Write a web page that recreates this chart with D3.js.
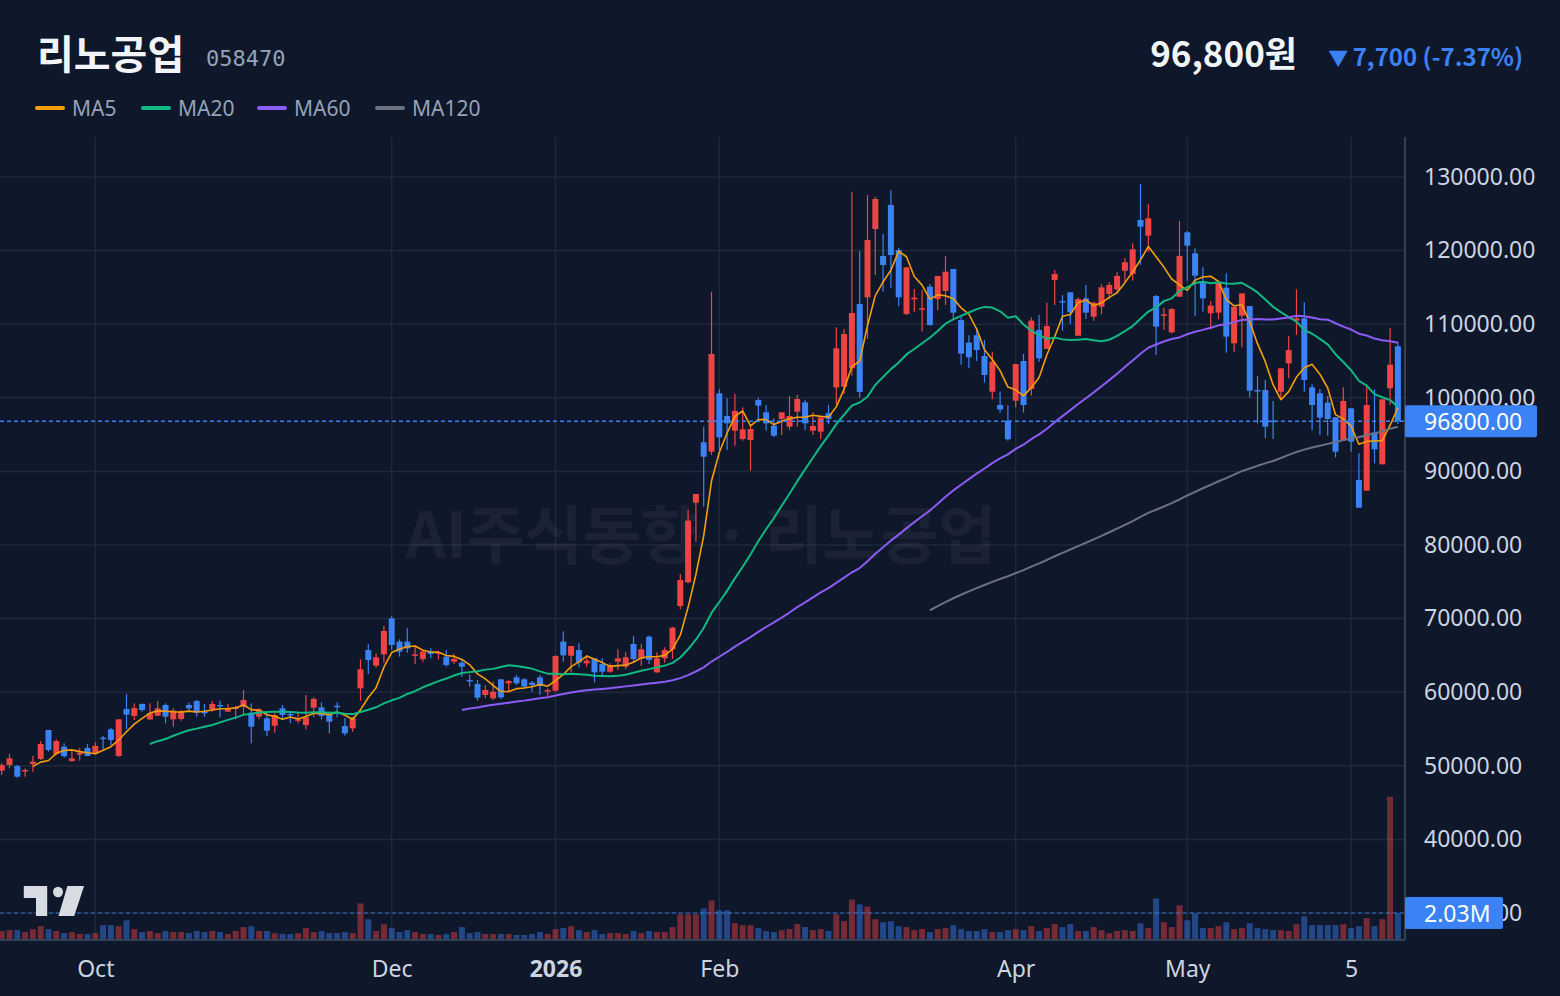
<!DOCTYPE html>
<html><head><meta charset="utf-8">
<script src="https://cdn.jsdelivr.net/npm/d3@7"></script>
<style>
html,body{margin:0;padding:0;background:#0f172a;}
svg{display:block;}
</style></head><body>
<script>
// ---- data (bar index 0..179) ----
const openP = [
49340,50110,49970,49290,50240,50920,54860,51600,52600,50650,
51510,52420,51690,53820,54950,51330,57720,56770,58400,56310,
56810,58260,56310,56360,58260,58800,57360,57670,58260,57360,
57720,58030,57220,56680,56450,55450,57810,57040,56130,55540,
57900,57940,56900,58170,55410,55090,60530,65730,63610,65150,
70040,66870,66870,65010,64490,65510,65280,64830,64150,64010,
61660,61110,59620,59170,61750,61210,62020,61750,61300,62020,
60120,60210,66870,64960,65730,63920,64600,63830,62790,64150,
63470,66550,64510,67550,62700,64600,65820,71710,74930,85750,
93950,92680,100610,97530,95530,94400,94270,99700,98030,96210,
97120,96080,98120,99380,95530,95400,97890,101420,101510,104000,
112740,113650,122930,119270,126200,120080,111390,113380,112020,115100,
113420,114510,117500,110570,107500,108500,105680,100830,99020,96890,
99610,105000,101200,109210,106630,116010,113150,114330,108440,113510,
111020,112380,114100,114740,117270,116820,124160,122030,113830,111160,
108890,113740,122480,119630,115780,111480,111570,114960,107400,111160,
112470,101060,101060,96890,100830,104680,110480,110800,101420,100610,
99340,97350,94180,98570,88830,87380,95310,90960,101290,107000];
const highP = [
50340,51600,50110,49650,51330,53370,54860,53600,53050,52150,
52460,52960,53190,54050,55180,56310,59760,58490,58490,58490,
58800,58490,57810,57580,58580,58940,58400,58800,58850,58400,
58120,60300,58490,57810,57360,57130,58260,57220,57360,59620,
59300,58620,57360,58620,56450,56590,64470,66550,65280,68990,
70350,67180,68680,66190,65730,65960,65640,65730,65190,64470,
62430,61660,60980,61430,61750,61660,62340,61880,61520,62340,
60530,65050,68270,66280,66640,65050,64600,64600,63920,65820,
65420,67640,66550,67680,65420,66100,68900,76060,84760,86930,
96080,114420,101150,99930,100520,98700,96300,100020,99020,97210,
98030,100240,100380,99700,98030,97440,99020,109570,109300,128000,
119950,127550,127330,122260,128230,120400,117730,114780,114650,115460,
116550,119270,117500,111000,108500,109500,107850,106270,100830,99020,
104590,105950,110930,111250,112930,117360,113970,114330,113650,115330,
113060,115420,115690,117050,118950,120990,129050,126330,113970,112250,
112160,124020,122660,120310,117730,113150,115920,116910,112380,114190,
112470,102960,102420,99570,104000,108400,114740,112970,101830,101200,
100240,97350,101420,98570,92450,101420,101150,99790,109440,107600];
const lowP = [
48750,49650,48390,48520,49200,50790,51920,51420,51100,50560,
50700,51300,51600,52280,52830,51240,54950,56220,57360,56220,
56770,55770,55320,56130,57490,56680,56680,57360,56590,57360,
56310,56900,53050,56310,54050,54500,56220,55770,55770,54950,
56590,56310,54410,56590,54090,54640,58850,62470,63330,64010,
65730,64830,65370,63830,64150,64600,64470,63470,63830,62110,
60750,58850,59170,58940,59080,59940,60980,60530,60070,59620,
59480,60070,64150,62700,63380,63470,61340,62020,62650,63020,
63150,64060,63610,63830,62650,64010,64510,71260,74790,80450,
85210,92230,92910,92910,93500,94180,90100,96890,95530,94630,
94950,95620,96080,95620,94950,94400,96440,99020,100500,103000,
100000,108000,116680,114420,114960,112470,111250,111700,109000,109800,
111930,112610,110570,104500,104000,105000,102060,99840,97980,94180,
98700,97980,100290,104910,106630,112610,109120,110030,108440,110710,
110480,111340,113380,114190,115690,115920,118040,119860,105820,109210,
108760,113740,115920,111110,111700,109300,110660,106130,106270,106860,
100060,96530,94490,94400,99930,102650,108530,100830,95620,94950,
94850,91910,94180,92680,85070,87380,91100,90960,99020,96440];
const closeP = [
50110,51010,48520,49430,50560,52960,52150,53370,51330,51010,
51780,51330,52690,53690,53500,56310,56950,57850,57580,57130,
57810,56680,57490,57360,57810,57220,57130,58400,58170,57810,
57940,58940,55320,57670,54770,56900,56900,56860,56310,56590,
59080,56770,56000,58030,54410,56450,63110,64380,64740,68320,
66410,65510,65960,65150,65510,65190,65420,63700,64510,63470,
61520,59260,60300,60070,59300,61520,61210,60750,60980,60840,
60300,64920,65010,66280,64060,64280,62700,62790,63700,64600,
64740,64510,65820,64380,64600,65730,68770,75240,83310,86930,
92000,105950,94630,96530,98210,95720,95760,98930,96530,94850,
98030,97530,99840,96530,96170,97300,97120,106720,108670,111520,
100800,121440,127010,118040,119400,113650,117730,113610,112160,109890,
116550,117140,111570,106000,105500,106500,103100,104910,98430,94360,
104590,99020,110480,105360,109760,116820,113020,111610,113420,111570,
112930,115010,115330,116550,118410,120170,123250,124380,109670,111340,
112070,119270,120670,116590,113510,112520,115780,108310,112380,114190,
100970,100920,96080,96710,104000,106490,110800,102420,99020,97300,
97120,92680,99570,94040,85070,99020,93000,99790,104500,96800];
const volumeM = [
0.62,0.69,0.69,0.54,0.77,1.00,0.77,0.62,0.46,0.54,
0.39,0.39,0.46,1.08,1.08,1.00,1.46,0.77,0.54,0.62,
0.46,0.62,0.54,0.54,0.46,0.62,0.54,0.62,0.54,0.39,
0.62,0.93,1.00,0.62,0.62,0.46,0.39,0.39,0.46,0.85,
0.54,0.62,0.46,0.46,0.54,0.46,2.78,1.54,0.62,1.16,
0.85,0.54,0.69,0.54,0.39,0.39,0.31,0.39,0.54,0.93,
0.46,0.54,0.39,0.39,0.39,0.39,0.31,0.31,0.39,0.54,
0.39,0.77,0.85,1.00,0.69,0.54,0.69,0.39,0.46,0.46,
0.39,0.62,0.46,0.62,0.54,0.54,0.93,1.93,1.93,1.93,
2.39,3.01,2.24,2.24,1.23,1.08,1.08,0.85,0.62,0.54,
0.69,0.77,1.16,0.93,0.69,0.77,0.62,1.93,1.39,3.08,
2.70,2.54,1.54,1.31,1.39,1.00,0.93,0.69,0.77,0.54,
0.77,0.85,1.08,0.77,0.62,0.62,0.77,0.54,0.54,0.69,
0.77,0.69,1.00,0.62,0.85,1.16,0.93,1.16,0.62,0.62,
0.93,0.69,0.46,0.62,0.69,0.62,1.23,0.85,3.16,1.31,
0.93,2.62,1.46,2.00,0.85,0.85,1.00,1.31,0.77,0.85,
1.23,0.85,0.77,0.69,0.69,0.62,1.16,1.77,1.08,1.08,
1.08,1.08,1.16,0.85,1.00,1.62,1.00,1.54,11.10,2.03];
const priceTicks = [30000,40000,50000,60000,70000,80000,90000,100000,110000,120000,130000];
const timeTickIndex = [12,50,71,92,130,152,173];
const timeTickLabels = ["Oct","Dec","2026","Feb","Apr","May","5"];
const maPeriods = [5,20,60,120];
const maNames = ["MA5","MA20","MA60","MA120"];
const maColors = ["#f59e0b","#10b981","#8b5cf6","#6b7280"];
const lastPrice = 96800, lastVolume = 2.03;
const title = "리노공업", code = "058470";
const priceText = "96,800원", changeText = "7,700 (-7.37%)";
const watermark = "AI주식동향 · 리노공업";

// ---- drawing ----
const W=1560,H=996;
const UP="#ef4444", DOWN="#3b82f6";
const plotR=1405, plotT=137, plotB=940;
const n = closeP.length;
const bars = d3.range(n).map(i=>({i,o:openP[i],h:highP[i],l:lowP[i],c:closeP[i],v:volumeM[i]}));
const svg=d3.select("body").append("svg").attr("width",W).attr("height",H);
svg.append("rect").attr("width",W).attr("height",H).attr("fill","#0f172a");
const x=d3.scaleLinear().domain([0,n-1]).range([1.7,1397.9]);
const y=d3.scaleLinear().domain([30000,130000]).range([913,177]);
const vy=d3.scaleLinear().domain([0,lastVolume]).range([939,913]);

svg.append("defs").append("clipPath").attr("id","plot").append("rect")
  .attr("x",0).attr("y",plotT).attr("width",plotR).attr("height",plotB-plotT);

const grid=svg.append("g").attr("stroke","#1e293b").attr("stroke-width",1.5);
grid.selectAll("line.h").data(priceTicks).join("line").attr("class","h")
  .attr("x1",0).attr("x2",plotR).attr("y1",d=>y(d)).attr("y2",d=>y(d));
grid.selectAll("line.v").data(timeTickIndex).join("line").attr("class","v")
  .attr("x1",d=>x(d)).attr("x2",d=>x(d)).attr("y1",plotT).attr("y2",plotB);

// watermark
svg.append("text").attr("x",701).attr("y",530).attr("text-anchor","middle")
  .attr("dominant-baseline","central")
  .attr("font-family","'Noto Sans CJK KR','Noto Sans',sans-serif").attr("font-weight",700)
  .attr("font-size",63).attr("fill","#ffffff").attr("fill-opacity",0.05).text(watermark);

const plot=svg.append("g").attr("clip-path","url(#plot)");
// volume
plot.append("g").selectAll("rect").data(bars).join("rect")
  .attr("x",d=>x(d.i)-3).attr("width",6)
  .attr("y",d=>vy(d.v)).attr("height",d=>vy(0)-vy(d.v))
  .attr("fill",d=>d.c>=d.o?UP:DOWN).attr("fill-opacity",0.45);
plot.append("line").attr("x1",0).attr("x2",plotR).attr("y1",vy(lastVolume)).attr("y2",vy(lastVolume))
  .attr("stroke",DOWN).attr("stroke-opacity",0.55).attr("stroke-width",1.5).attr("stroke-dasharray","4 3");

// candles
const cg=plot.append("g");
cg.selectAll("line").data(bars).join("line")
  .attr("x1",d=>x(d.i)).attr("x2",d=>x(d.i)).attr("y1",d=>y(d.h)).attr("y2",d=>y(d.l))
  .attr("stroke",d=>d.c>=d.o?UP:DOWN).attr("stroke-width",1.2);
cg.selectAll("rect").data(bars).join("rect")
  .attr("x",d=>x(d.i)-3).attr("width",6)
  .attr("y",d=>y(Math.max(d.o,d.c)))
  .attr("height",d=>Math.max(1.5,Math.abs(y(d.o)-y(d.c))))
  .attr("fill",d=>d.c>=d.o?UP:DOWN);

// moving averages
maPeriods.forEach((p,k)=>{
  const pts=[];
  for(let i=p-1;i<n;i++){ pts.push([i,d3.mean(closeP.slice(i-p+1,i+1))]); }
  plot.append("path").datum(pts)
    .attr("d",d3.line().x(d=>x(d[0])).y(d=>y(d[1])))
    .attr("fill","none").attr("stroke",maColors[k]).attr("stroke-width",k===0?1.6:2)
    .attr("stroke-linejoin","round");
});

plot.append("line").attr("x1",0).attr("x2",plotR).attr("y1",y(lastPrice)).attr("y2",y(lastPrice))
  .attr("stroke",DOWN).attr("stroke-width",1.5).attr("stroke-dasharray","4 3");

svg.append("line").attr("x1",0).attr("x2",plotR).attr("y1",plotB).attr("y2",plotB).attr("stroke","#334155").attr("stroke-width",2);
svg.append("line").attr("x1",plotR).attr("x2",plotR).attr("y1",plotT).attr("y2",plotB).attr("stroke","#334155").attr("stroke-width",2);

const axisFont="'Noto Sans','Noto Sans CJK KR',sans-serif";
const ya=svg.append("g").attr("transform",`translate(${plotR},0)`)
  .call(d3.axisRight(y).tickValues(priceTicks).tickFormat(d3.format(".2f")).tickSize(0).tickPadding(19));
ya.select(".domain").remove();
ya.selectAll("text").attr("font-family",axisFont).attr("font-size",23).attr("fill","#cbd5e1");

const xa=svg.append("g").attr("transform",`translate(0,${plotB})`)
  .call(d3.axisBottom(x).tickValues(timeTickIndex).tickFormat((d,i)=>timeTickLabels[i]).tickSize(0));
xa.select(".domain").remove();
xa.selectAll("text").attr("y",29).attr("dy","0.35em").attr("font-family",axisFont).attr("font-size",23)
  .attr("fill","#cbd5e1").attr("font-weight",(d,i)=>timeTickLabels[i]==="2026"?700:400);

function tag(cy,txt,w){
  svg.append("rect").attr("x",plotR).attr("y",cy-16).attr("width",w).attr("height",32).attr("rx",2).attr("fill",DOWN);
  svg.append("text").attr("x",plotR+19).attr("y",cy).attr("dominant-baseline","central")
    .attr("font-family",axisFont).attr("font-size",23).attr("fill","#ffffff").text(txt);
}
tag(y(lastPrice),d3.format(".2f")(lastPrice),132);
tag(vy(lastVolume),lastVolume.toFixed(2)+"M",98);

// header
const hf="'Noto Sans CJK KR','Noto Sans',sans-serif";
svg.append("text").attr("x",37).attr("y",69).attr("font-family",hf).attr("font-weight",700)
  .attr("font-size",40).attr("fill","#f1f5f9").text(title);
svg.append("text").attr("x",206).attr("y",66).attr("font-family","'DejaVu Sans Mono',monospace")
  .attr("font-size",22).attr("fill","#94a3b8").text(code);
svg.append("text").attr("x",1297).attr("y",67).attr("text-anchor","end").attr("font-family",hf).attr("font-weight",700)
  .attr("font-size",35).attr("fill","#f1f5f9").text(priceText);
const ch=svg.append("text").attr("x",1523).attr("y",66).attr("text-anchor","end").attr("font-family",hf).attr("font-weight",700)
  .attr("font-size",24).attr("fill",DOWN);
ch.append("tspan").attr("font-size",20).text("▼ ");
ch.append("tspan").text(changeText);

// legend
const legX=[37,143,259,377];
maNames.forEach((nm,k)=>{
  svg.append("line").attr("x1",legX[k]).attr("x2",legX[k]+26).attr("y1",108).attr("y2",108)
    .attr("stroke",maColors[k]).attr("stroke-width",4).attr("stroke-linecap","round");
  svg.append("text").attr("x",legX[k]+35).attr("y",108).attr("dominant-baseline","central")
    .attr("font-family",axisFont).attr("font-size",21).attr("fill","#94a3b8").text(nm);
});

// logo
const lg=svg.append("g").attr("fill","#d9dbe3");
lg.append("path").attr("d","M23.8,886 L47.2,886 L47.2,916 L36,916 L36,898 L23.8,898 Z");
lg.append("ellipse").attr("cx",58).attr("cy",892).attr("rx",5).attr("ry",5.3);
lg.append("path").attr("d","M67.4,886 L84.1,886 L74.2,916 L58.5,916 Z");
</script>
</body></html>
